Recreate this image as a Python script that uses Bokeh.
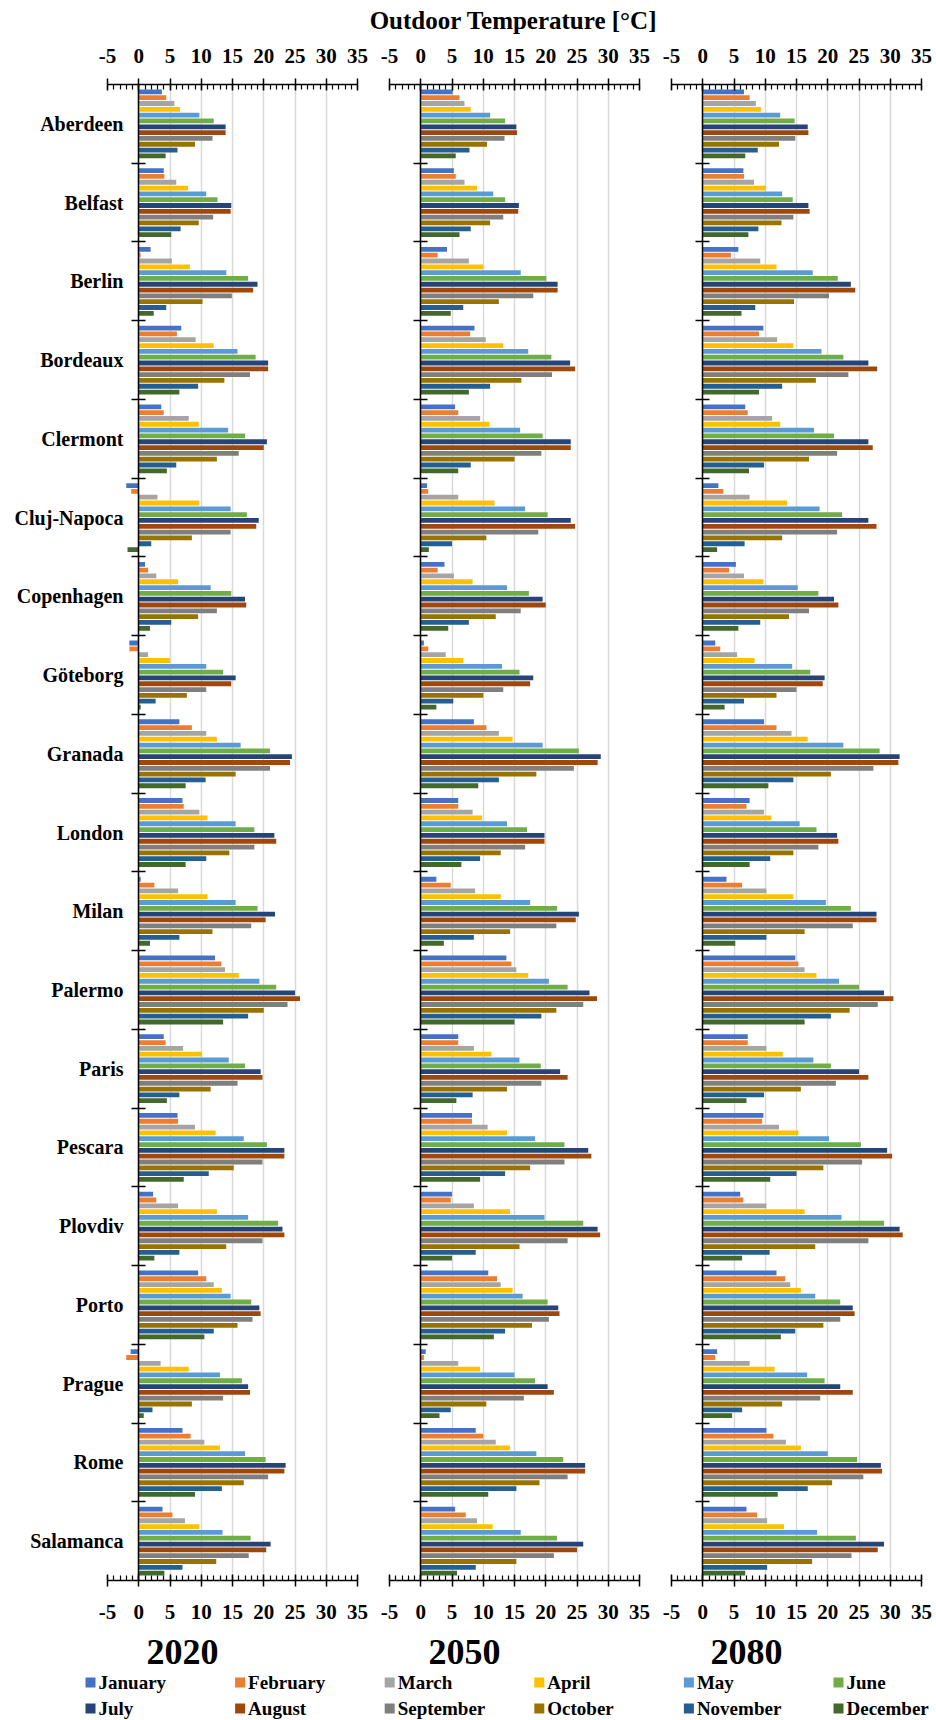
from bokeh.plotting import figure
from bokeh.models import Range1d, LinearAxis, FixedTicker, SingleIntervalTicker, ColumnDataSource, Grid
from bokeh.transform import dodge
from bokeh.layouts import column, row
from bokeh.core.properties import value
from bokeh.embed import file_html
from bokeh.resources import INLINE

# ---------------- data ----------------
cities = ["Aberdeen", "Belfast", "Berlin", "Bordeaux", "Clermont", "Cluj-Napoca",
          "Copenhagen", "Göteborg", "Granada", "London", "Milan", "Palermo", "Paris",
          "Pescara", "Plovdiv", "Porto", "Prague", "Rome", "Salamanca"]

months = ["January", "February", "March", "April", "May", "June", "July",
          "August", "September", "October", "November", "December"]

month_colors = ["#4472C4", "#ED7D31", "#A5A5A5", "#FFC000", "#5B9BD5", "#70AD47",
                "#264478", "#9E480E", "#7F7F7F", "#997300", "#255E91", "#43682B"]

years = ["2020", "2050", "2080"]

x_ticks = [-5, 0, 5, 10, 15, 20, 25, 30, 35]

temps_2020 = [
    [3.7, 4.4, 5.7, 6.6, 9.7, 12.0, 13.9, 13.9, 11.8, 9.0, 6.2, 4.3],
    [4.0, 4.1, 6.0, 7.9, 10.8, 12.6, 14.8, 14.7, 11.9, 9.6, 6.7, 5.2],
    [1.9, 0.3, 5.3, 8.2, 14.0, 17.5, 19.0, 18.3, 14.9, 10.2, 4.4, 2.4],
    [6.8, 6.1, 9.1, 12.0, 15.8, 18.7, 20.7, 20.7, 17.8, 13.7, 9.5, 6.5],
    [3.6, 4.0, 8.0, 9.6, 14.3, 17.0, 20.5, 20.0, 16.0, 12.5, 6.0, 4.5],
    [-2.0, -1.2, 3.0, 9.7, 14.7, 17.3, 19.2, 18.8, 14.7, 8.5, 2.0, -1.8],
    [1.0, 1.5, 2.8, 6.3, 11.5, 14.8, 17.0, 17.2, 12.5, 9.5, 5.2, 1.8],
    [-1.5, -1.5, 1.5, 5.0, 10.8, 13.5, 15.5, 14.8, 10.8, 7.7, 2.7, 0.3],
    [6.5, 8.5, 10.8, 12.5, 16.3, 21.0, 24.5, 24.2, 21.0, 15.5, 10.7, 7.5],
    [7.0, 7.2, 9.7, 11.0, 15.5, 18.5, 21.7, 22.0, 18.5, 14.5, 10.8, 7.5],
    [0.3, 2.5, 6.3, 11.0, 15.5, 19.0, 21.8, 20.3, 18.0, 11.8, 6.5, 1.8],
    [12.2, 13.2, 13.8, 16.0, 19.3, 22.0, 25.0, 25.8, 23.8, 20.0, 17.5, 13.5],
    [4.0, 4.3, 7.1, 10.1, 14.4, 17.0, 19.5, 19.8, 15.8, 11.5, 6.5, 4.5],
    [6.2, 6.3, 9.0, 12.3, 16.8, 20.5, 23.3, 23.3, 19.8, 15.2, 11.2, 7.2],
    [2.3, 2.8, 6.3, 12.5, 17.5, 22.3, 23.0, 23.3, 19.8, 14.0, 6.5, 2.5],
    [9.5, 10.8, 12.0, 13.3, 14.7, 18.0, 19.3, 19.5, 18.2, 15.8, 12.0, 10.5],
    [-1.3, -2.0, 3.5, 8.0, 13.0, 16.5, 17.5, 17.8, 13.5, 8.5, 2.2, 0.8],
    [7.0, 8.3, 10.5, 13.0, 17.0, 20.3, 23.5, 23.3, 20.7, 16.8, 13.3, 9.0],
    [3.8, 5.4, 7.4, 9.7, 13.4, 17.9, 21.1, 20.4, 17.6, 12.4, 7.0, 4.1],
]

temps_2050 = [
    [5.1, 6.2, 7.0, 8.0, 11.1, 13.5, 15.3, 15.4, 13.4, 10.6, 7.8, 5.6],
    [5.3, 5.6, 7.0, 9.0, 11.6, 13.5, 15.7, 15.6, 13.2, 11.1, 8.0, 6.2],
    [4.2, 2.7, 7.7, 10.0, 16.0, 20.1, 21.9, 21.9, 18.0, 12.5, 6.8, 4.8],
    [8.6, 7.9, 10.4, 13.2, 17.2, 20.9, 23.9, 24.7, 21.0, 16.1, 11.1, 7.7],
    [5.5, 6.0, 9.5, 11.0, 15.9, 19.5, 24.0, 24.0, 19.3, 15.0, 8.0, 6.0],
    [1.0, 1.2, 6.0, 11.8, 16.7, 20.3, 24.0, 24.7, 18.8, 10.5, 5.0, 1.3],
    [3.8, 2.7, 5.3, 8.3, 13.8, 17.3, 19.5, 20.0, 16.0, 12.0, 7.7, 4.4],
    [0.5, 1.2, 4.0, 6.8, 13.0, 15.8, 18.0, 17.5, 13.2, 10.0, 5.2, 2.5],
    [8.5, 10.5, 12.5, 14.7, 19.5, 25.3, 28.8, 28.3, 24.5, 18.5, 12.5, 9.2],
    [6.0, 6.0, 8.3, 9.8, 13.8, 17.0, 19.8, 19.8, 16.7, 12.8, 9.5, 6.5],
    [2.5, 4.8, 8.7, 12.8, 17.5, 21.8, 25.3, 24.8, 21.7, 14.3, 8.5, 3.7],
    [13.7, 14.5, 15.3, 17.2, 20.5, 23.5, 27.0, 28.2, 26.0, 21.7, 19.3, 15.0],
    [6.0, 6.0, 8.5, 11.3, 15.8, 19.2, 22.3, 23.5, 19.3, 13.8, 8.3, 5.7],
    [8.2, 8.2, 10.7, 13.8, 18.3, 23.0, 26.8, 27.3, 23.0, 17.5, 13.5, 9.5],
    [5.0, 4.8, 8.5, 14.3, 19.8, 26.0, 28.3, 28.7, 23.5, 15.8, 8.8, 5.0],
    [10.8, 12.2, 12.8, 14.7, 16.3, 20.3, 22.0, 22.2, 20.5, 17.8, 13.5, 11.7],
    [0.8, 0.5, 6.0, 9.5, 15.0, 18.3, 20.3, 21.3, 16.5, 10.5, 4.8, 3.0],
    [8.8, 10.0, 12.0, 14.3, 18.5, 22.8, 26.3, 26.3, 23.5, 19.0, 15.3, 10.8],
    [5.5, 7.2, 9.0, 11.5, 16.0, 21.8, 26.0, 25.0, 21.3, 15.3, 8.8, 5.8],
]

temps_2080 = [
    [6.6, 7.5, 8.5, 9.3, 12.4, 14.7, 16.8, 16.9, 14.8, 12.2, 8.8, 6.8],
    [6.5, 6.6, 8.2, 10.1, 12.7, 14.4, 16.9, 17.1, 14.5, 12.6, 8.9, 7.3],
    [5.7, 4.5, 9.2, 11.8, 17.6, 21.6, 23.7, 24.4, 20.2, 14.6, 8.4, 6.2],
    [9.7, 9.0, 11.9, 14.5, 19.0, 22.5, 26.5, 27.9, 23.3, 18.1, 12.7, 9.0],
    [6.8, 7.2, 11.1, 12.4, 17.8, 21.0, 26.5, 27.2, 21.5, 17.0, 9.8, 7.4],
    [2.5, 3.3, 7.5, 13.5, 18.7, 22.3, 26.5, 27.8, 21.5, 12.7, 6.7, 2.3],
    [5.3, 4.2, 6.6, 9.7, 15.2, 18.5, 21.0, 21.7, 17.0, 13.8, 9.2, 5.7],
    [2.0, 2.8, 5.5, 8.3, 14.3, 17.2, 19.5, 19.2, 15.0, 11.8, 6.6, 3.5],
    [9.8, 11.8, 14.2, 16.8, 22.5, 28.3, 31.5, 31.3, 27.3, 20.5, 14.5, 10.5],
    [7.5, 7.0, 9.8, 11.0, 15.5, 18.2, 21.5, 21.7, 18.5, 14.5, 10.8, 7.5],
    [3.8, 6.3, 10.2, 14.5, 19.7, 23.7, 27.8, 27.8, 24.0, 16.3, 10.2, 5.2],
    [14.8, 15.3, 16.3, 18.2, 21.8, 25.0, 29.0, 30.5, 28.0, 23.5, 20.5, 16.3],
    [7.2, 7.2, 10.2, 12.8, 17.7, 20.5, 25.0, 26.5, 21.3, 15.7, 9.8, 7.0],
    [9.7, 9.5, 12.2, 15.3, 20.2, 25.3, 29.5, 30.3, 25.5, 19.3, 15.0, 10.8],
    [6.0, 6.5, 10.2, 16.3, 22.2, 29.0, 31.5, 32.0, 26.5, 18.0, 10.7, 6.3],
    [11.8, 13.2, 14.0, 15.7, 18.0, 22.0, 24.0, 24.3, 22.0, 19.3, 14.8, 12.5],
    [2.3, 2.0, 7.5, 11.5, 16.7, 19.5, 22.0, 24.0, 18.8, 12.7, 6.3, 4.7],
    [10.2, 11.3, 13.3, 15.7, 20.0, 24.7, 28.5, 28.7, 25.7, 20.7, 16.8, 12.0],
    [7.0, 8.7, 10.3, 13.0, 18.3, 24.5, 29.0, 28.0, 23.8, 17.5, 10.3, 6.8],
]

# ---------------- styling ----------------
FONT = "Liberation Serif"
PITCH = 0.0739      # bar slot as fraction of one city band
BAR_H = 0.061
PANEL_H = 50 + 1496 + 48


def style_x_axis(ax, standoff):
    ax.ticker = SingleIntervalTicker(interval=5, num_minor_ticks=5)
    ax.major_label_overrides = {t: str(t) for t in x_ticks}
    ax.axis_line_color = "black"
    ax.axis_line_width = 1.5
    ax.major_tick_line_color = "black"
    ax.major_tick_line_width = 1.5
    ax.minor_tick_line_color = "black"
    ax.minor_tick_line_width = 1.2
    ax.major_tick_in = 6
    ax.major_tick_out = 6
    ax.minor_tick_in = 5
    ax.minor_tick_out = 0
    ax.major_label_standoff = standoff
    ax.major_label_text_font = FONT
    ax.major_label_text_font_style = "bold"
    ax.major_label_text_font_size = "21px"
    ax.major_label_text_color = "black"


def panel(temps, width, left, right, show_cities):
    p = figure(width=width, height=PANEL_H, x_range=Range1d(-5, 35),
               y_range=Range1d(18.5, -0.5), x_axis_location=None, y_axis_location=None,
               toolbar_location=None, output_backend="svg",
               min_border_left=left, min_border_right=right,
               min_border_top=50, min_border_bottom=48)
    p.outline_line_color = None
    p.center = [r for r in p.center if not isinstance(r, Grid)]
    p.add_layout(Grid(dimension=0, ticker=SingleIntervalTicker(interval=5),
                      grid_line_color="#d9d9d9", grid_line_width=1.5))

    top = LinearAxis()
    style_x_axis(top, 16)
    p.add_layout(top, "above")
    bot = LinearAxis()
    style_x_axis(bot, 18)
    p.add_layout(bot, "below")

    data = {"y": list(range(len(cities))), "city": cities}
    for j, m in enumerate(months):
        data[m] = [r[j] for r in temps]
    src = ColumnDataSource(data)
    for j, m in enumerate(months):
        p.hbar(y=dodge("y", (j - 5.5) * PITCH, range=p.y_range), left=0, right=m,
               height=BAR_H, source=src, fill_color=month_colors[j], line_color=None)

    # zero line with category boundary ticks
    yb = LinearAxis(fixed_location=0,
                    ticker=FixedTicker(ticks=[i + 0.5 for i in range(len(cities) - 1)],
                                       minor_ticks=[]),
                    major_label_overrides={i + 0.5: "" for i in range(len(cities) - 1)},
                    major_tick_in=7, major_tick_out=7, major_tick_line_width=1.5,
                    major_tick_line_color="black", minor_tick_in=0, minor_tick_out=0,
                    axis_line_color="black", axis_line_width=1.5,
                    major_label_text_font_size="1px")
    p.add_layout(yb, "left")

    if show_cities:
        ya = LinearAxis(ticker=FixedTicker(ticks=list(range(len(cities))), minor_ticks=[]),
                        major_label_overrides={i: c for i, c in enumerate(cities)},
                        major_tick_in=0, major_tick_out=0, minor_tick_in=0, minor_tick_out=0,
                        axis_line_color=None, major_label_standoff=-16,
                        major_label_text_font=FONT, major_label_text_font_style="bold",
                        major_label_text_font_size="20px", major_label_text_color="black")
        p.add_layout(ya, "left")
    return p


p1 = panel(temps_2020, 373, 107, 16, True)
p2 = panel(temps_2050, 282, 16, 16, False)
p3 = panel(temps_2080, 281, 16, 15, False)


def blank(height):
    f = figure(width=936, height=height, x_range=Range1d(0, 936), y_range=Range1d(height, 0),
               x_axis_location=None, y_axis_location=None, toolbar_location=None,
               output_backend="svg", min_border=0)
    f.outline_line_color = None
    f.grid.visible = False
    return f


hdr = blank(34)
hdr.text(x=[513], y=[20], text=["Outdoor Temperature [°C]"], text_font=value(FONT),
         text_font_style="bold", text_font_size="25px", text_align="center",
         text_baseline="middle", text_color="black")

FOOT_H = 1720 - 34 - PANEL_H
ftr = blank(FOOT_H)
ftr.text(x=[182, 464, 746], y=[23, 23, 23], text=years, text_font=value(FONT),
         text_font_style="bold", text_font_size="36px", text_align="center",
         text_baseline="middle", text_color="black")

lx = [90 + 149.6 * (i % 6) for i in range(12)]
ly = [54 + 26 * (i // 6) for i in range(12)]
ftr.scatter(x=lx, y=ly, marker="square", size=10, fill_color=month_colors, line_color=None)
ftr.text(x=[x + 8 for x in lx], y=ly, text=months, text_font=value(FONT),
         text_font_style="bold", text_font_size="19px", text_align="left",
         text_baseline="middle", text_color="black")

layout = column(hdr, row(p1, p2, p3), ftr)
open("out.html", "w").write(file_html(layout, INLINE))
